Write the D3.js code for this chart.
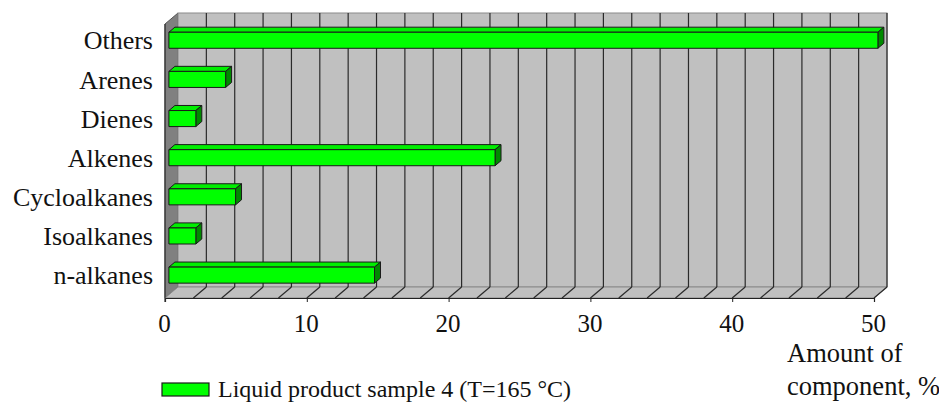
<!DOCTYPE html>
<html>
<head>
<meta charset="utf-8">
<script src="https://cdn.jsdelivr.net/npm/d3@7/dist/d3.min.js"></script>
<style>
  html, body { margin: 0; padding: 0; background: #fff; }
  svg { display: block; }
  svg text { font-family: "Liberation Serif", "Times New Roman", Times, Tinos, "DejaVu Serif", "Noto Serif", serif; }
</style>
</head>
<body>
<svg id="chart" width="939" height="403"></svg>
<script>
// Composition of the liquid product, % of total
const categories = ["Others", "Arenes", "Dienes", "Alkenes", "Cycloalkanes", "Isoalkanes", "n-alkanes"];
const values = [50.0, 4.0, 1.9, 23.0, 4.7, 1.9, 14.5];
const xTicks = [0, 10, 20, 30, 40, 50];
const gridStep = 2;
const seriesName = "Liquid product sample 4 (T=165 °C)";
const axisTitle = ["Amount of", "component, %"];

const svg = d3.select("#chart");

// Front plane of the pseudo-3D box and its depth offset
const front = { left: 165, right: 874, top: 24, bottom: 298 };
const depth = { dx: 13, dy: -11 };

const x = d3.scaleLinear().domain([0, 50]).range([front.left, front.right]);
const y = d3.scaleBand().domain(categories)
  .range([front.top, front.bottom])
  .paddingInner(0.59).paddingOuter(0.295);

const wallFill = "#c0c0c0", sideFill = "#808080", gridColor = "#2a2a2a";

// Left side wall
svg.append("polygon")
  .attr("points", [
    [x(0), front.top], [x(0) + depth.dx, front.top + depth.dy],
    [x(0) + depth.dx, front.bottom + depth.dy], [x(0), front.bottom]
  ].map(p => p.join(",")).join(" "))
  .attr("fill", sideFill).attr("stroke", "#555").attr("stroke-width", 1);

// Back wall
svg.append("rect")
  .attr("x", x(0) + depth.dx).attr("y", front.top + depth.dy)
  .attr("width", x(50) - x(0)).attr("height", front.bottom - front.top)
  .attr("fill", wallFill).attr("stroke", "#8a8a8a").attr("stroke-width", 1);

// Floor
svg.append("polygon")
  .attr("points", [
    [x(0), front.bottom], [x(0) + depth.dx, front.bottom + depth.dy],
    [x(50) + depth.dx, front.bottom + depth.dy], [x(50), front.bottom]
  ].map(p => p.join(",")).join(" "))
  .attr("fill", wallFill).attr("stroke", "#8a8a8a").attr("stroke-width", 1);

// Gridlines: vertical on back wall, diagonal across the floor
const gridVals = d3.range(gridStep, 50 + 0.001, gridStep);
const grid = svg.append("g").attr("stroke", gridColor).attr("stroke-width", 1.2);
grid.selectAll("line.wall").data(gridVals).join("line")
  .attr("class", "wall")
  .attr("x1", d => x(d) + depth.dx).attr("x2", d => x(d) + depth.dx)
  .attr("y1", front.top + depth.dy).attr("y2", front.bottom + depth.dy);
grid.selectAll("line.floor").data(gridVals).join("line")
  .attr("class", "floor")
  .attr("x1", d => x(d) + depth.dx).attr("y1", front.bottom + depth.dy)
  .attr("x2", d => x(d)).attr("y2", front.bottom);

// Bottom axis along the front edge of the floor
const axis = svg.append("g").attr("transform", `translate(0,${front.bottom})`)
  .call(d3.axisBottom(x).tickValues(xTicks).tickSize(4).tickPadding(12).tickFormat(d3.format("d")));
axis.attr("font-family", null);
axis.select(".domain").attr("stroke", "#222").attr("stroke-width", 1.2);
axis.selectAll(".tick line").attr("stroke", "#222");
axis.selectAll(".tick text")
  .attr("font-size", 25).attr("fill", "#111").attr("dx", -1);

// Left vertical edge
svg.append("line")
  .attr("x1", x(0)).attr("x2", x(0))
  .attr("y1", front.top).attr("y2", front.bottom + 4)
  .attr("stroke", "#333").attr("stroke-width", 1.2);

// Bars, placed in the middle of the box depth
const f0 = 0.3, f1 = 0.76;
const bx0 = depth.dx * f0, by0 = depth.dy * f0;
const bdx = depth.dx * (f1 - f0), bdy = depth.dy * (f1 - f0);
const data = categories.map((c, i) => ({ c, v: values[i] }));
const bars = svg.append("g").selectAll("g").data(data).join("g")
  .attr("stroke", "#1a1a1a").attr("stroke-width", 1).attr("stroke-linejoin", "round");

bars.append("polygon") // top face
  .attr("fill", "#00ee00")
  .attr("points", d => {
    const xa = x(0) + bx0, xb = x(d.v) + bx0, yt = y(d.c) + by0;
    return [[xa, yt], [xa + bdx, yt + bdy], [xb + bdx, yt + bdy], [xb, yt]].map(p => p.join(",")).join(" ");
  });
bars.append("polygon") // end face
  .attr("fill", "#008a00")
  .attr("points", d => {
    const xb = x(d.v) + bx0, yt = y(d.c) + by0, yb = yt + y.bandwidth();
    return [[xb, yt], [xb + bdx, yt + bdy], [xb + bdx, yb + bdy], [xb, yb]].map(p => p.join(",")).join(" ");
  });
bars.append("rect") // front face
  .attr("fill", "#00ff00")
  .attr("x", x(0) + bx0).attr("y", d => y(d.c) + by0)
  .attr("width", d => x(d.v) - x(0)).attr("height", y.bandwidth());

// Category labels
svg.append("g").selectAll("text").data(categories).join("text")
  .attr("x", 153).attr("y", d => y(d) + by0 + y.bandwidth() / 2)
  .attr("dy", "0.35em").attr("text-anchor", "end")
  .attr("font-size", 26).attr("fill", "#111")
  .text(d => d);

// Axis title
svg.append("text")
  .attr("x", 787).attr("y", 362)
  .attr("font-size", 26.5).attr("fill", "#111")
  .selectAll("tspan").data(axisTitle).join("tspan")
  .attr("x", 787).attr("dy", (d, i) => i === 0 ? 0 : 33)
  .text(d => d);

// Legend
const legend = svg.append("g");
legend.append("rect")
  .attr("x", 162).attr("y", 383).attr("width", 47).attr("height", 13)
  .attr("fill", "#00ff00").attr("stroke", "#1a1a1a").attr("stroke-width", 1.2);
legend.append("text")
  .attr("x", 218).attr("y", 397)
  .attr("font-size", 24).attr("fill", "#111")
  .text(seriesName);
</script>
</body>
</html>
